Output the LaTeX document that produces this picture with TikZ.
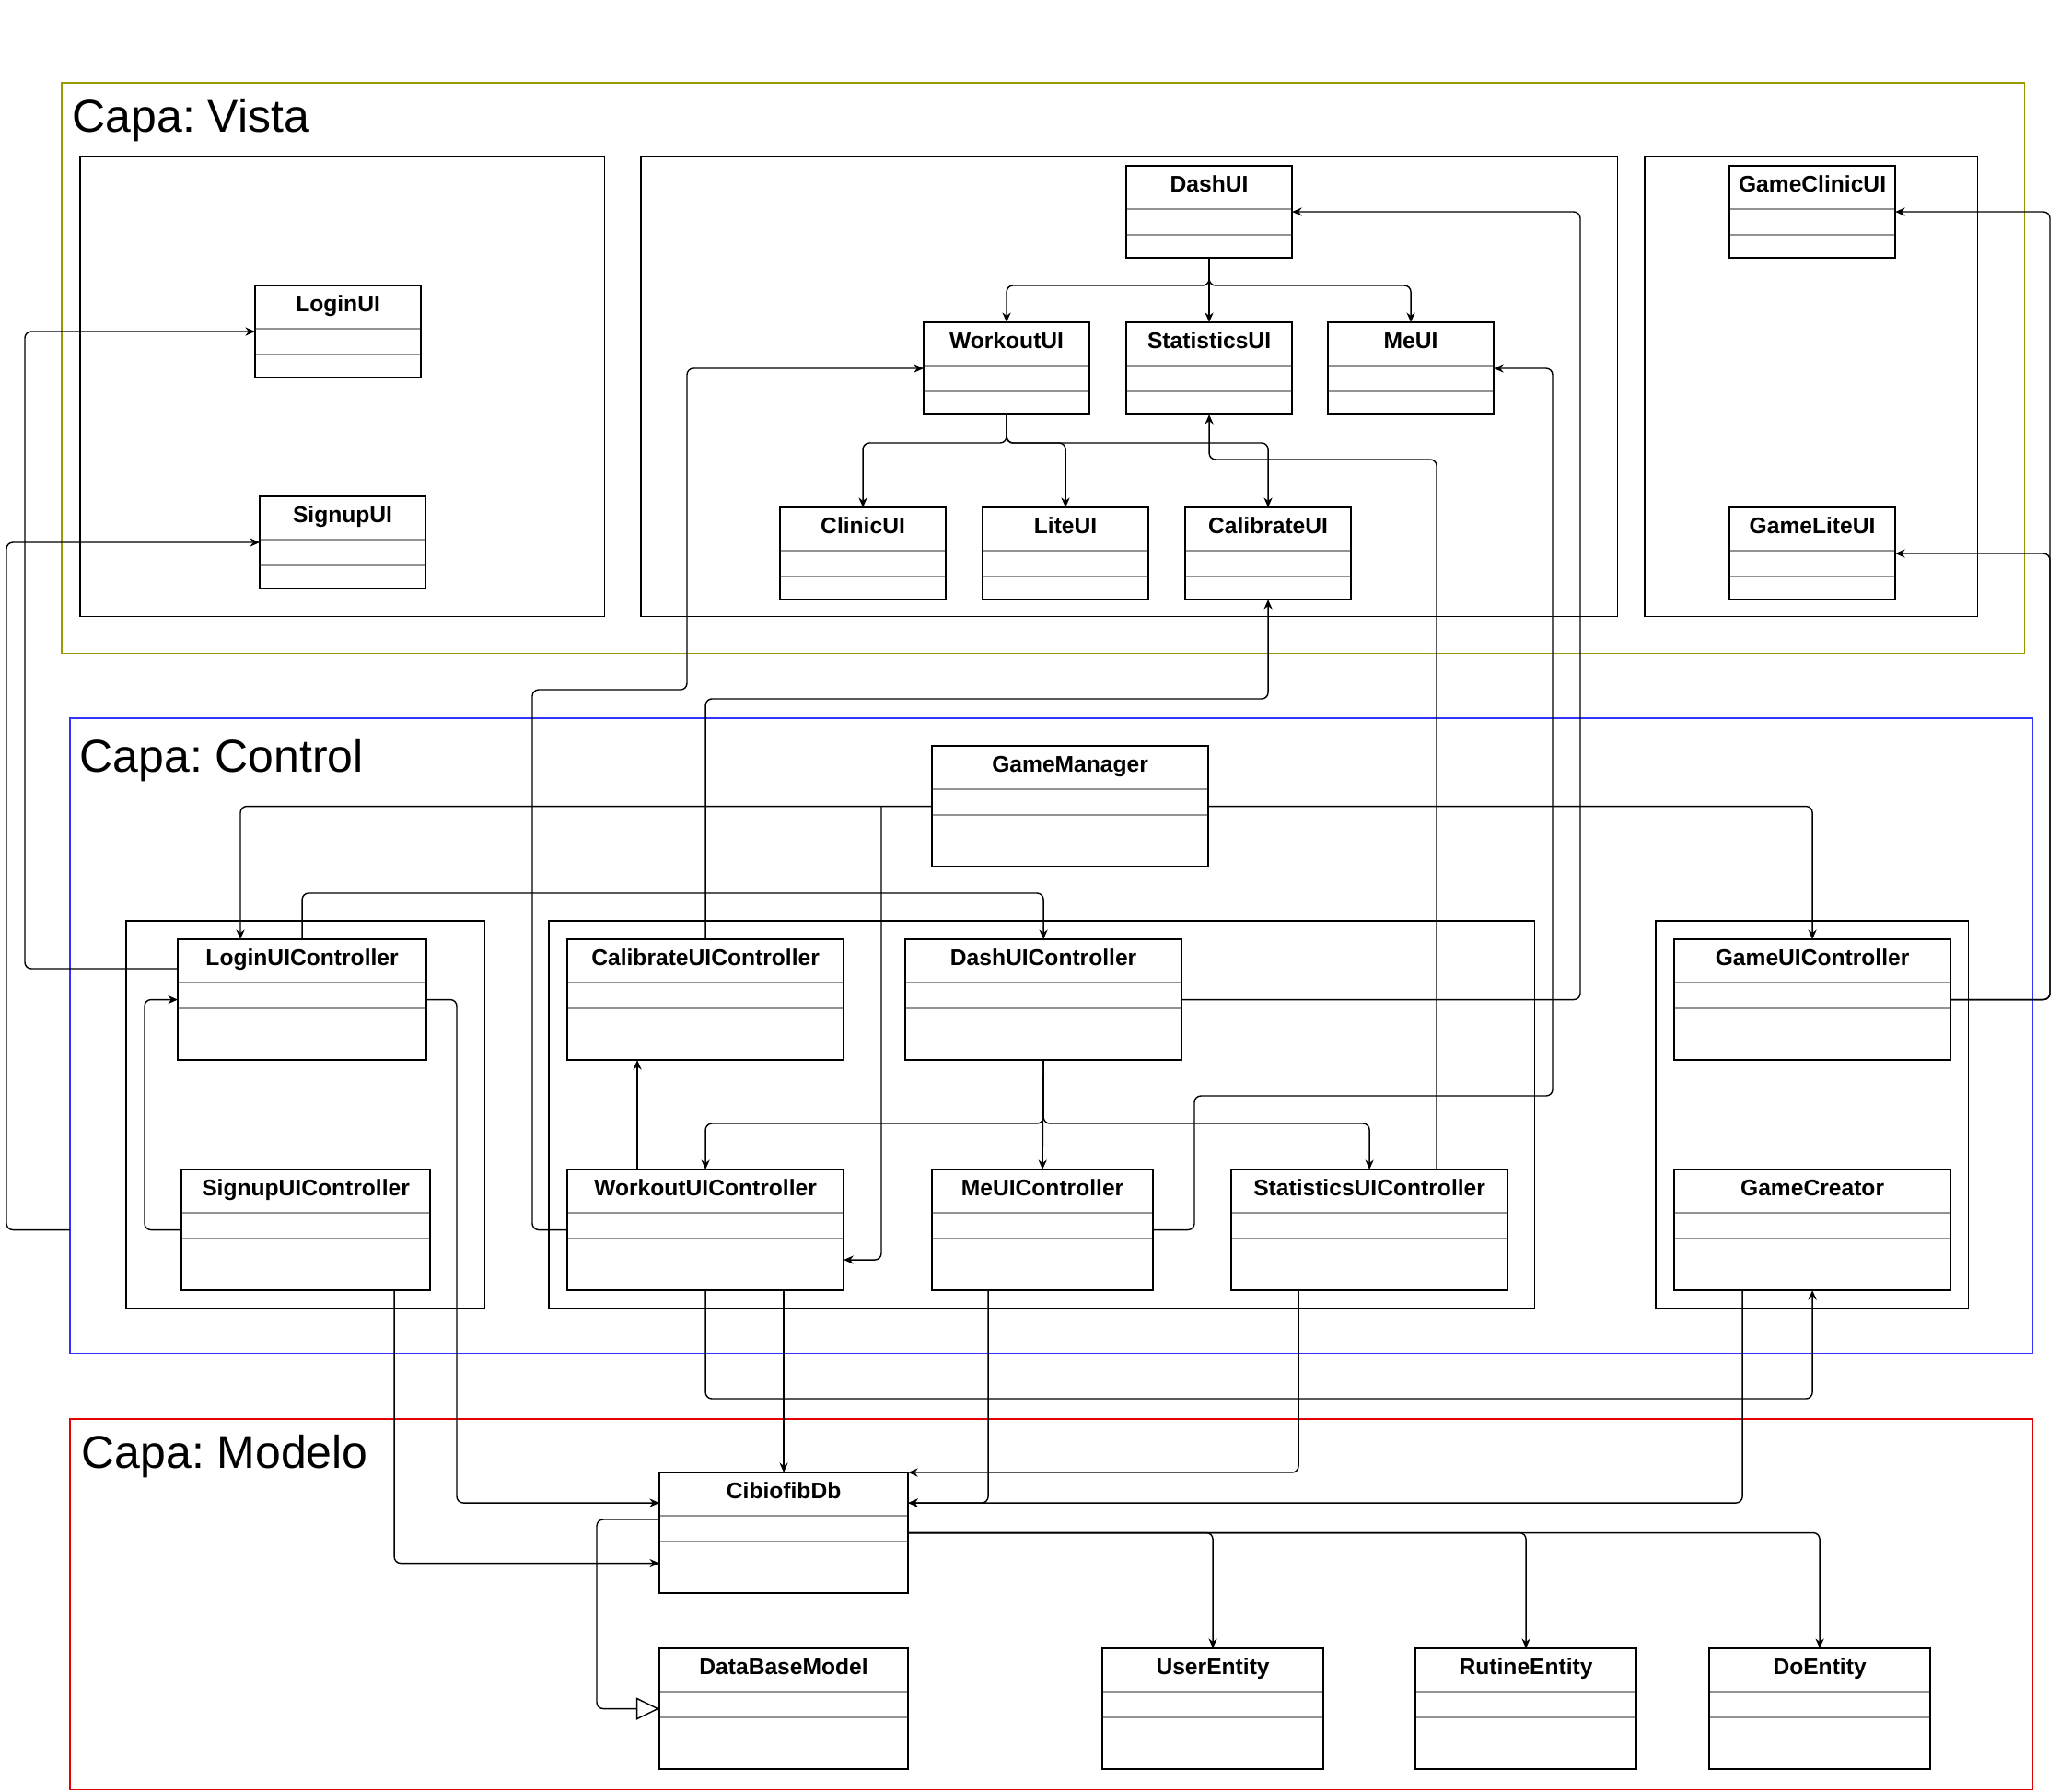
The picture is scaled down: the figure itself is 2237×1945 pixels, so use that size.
\documentclass[tikz,border=0pt]{standalone}
\usepackage{fontspec}
\setmainfont{Liberation Sans}
\usetikzlibrary{arrows.meta,positioning,calc}
\definecolor{vistacol}{RGB}{153,153,0}
\definecolor{ctlcol}{RGB}{51,51,255}
\definecolor{modcol}{RGB}{230,0,0}
\frenchspacing
\tikzstyle{layer}=[draw, anchor=north west, inner sep=0pt, outer sep=0pt]
\tikzstyle{layertitle}=[anchor=base west, inner sep=0pt, font=\fontsize{14.2pt}{17pt}\selectfont]
\tikzstyle{pkg}=[draw, anchor=north west, inner sep=0pt, outer sep=0pt]
\tikzstyle{classbox}=[draw, fill=white, anchor=north west, inner sep=0pt, outer sep=0pt, font=\fontsize{7pt}{8pt}\selectfont\bfseries, text height=0.28cm,
	path picture={\draw[gray!85] ([yshift=-0.47cm]path picture bounding box.north west) -- ([yshift=-0.47cm]path picture bounding box.north east)
		([yshift=-0.75cm]path picture bounding box.north west) -- ([yshift=-0.75cm]path picture bounding box.north east);}]
\tikzstyle{uiclass}=[classbox, minimum width=1.8cm, text depth=0.72cm]
\tikzstyle{ctlclass}=[classbox, minimum width=3cm, text depth=1.03cm]
\tikzstyle{dep}=[-{Stealth[length=3pt,width=2.6pt]}, rounded corners=2pt]
\tikzstyle{gen}=[-{Triangle[open,length=0.25cm,width=0.24cm,fill=white]}, rounded corners=2pt]

\begin{document}
\begin{tikzpicture}[x=0.01cm, y=-0.01cm]
	\useasboundingbox (0,0) rectangle (2237,1945);

	\node[layer, draw=vistacol, minimum width=21.3cm, minimum height=6.19cm] (capavista) at (67,90) {};
	\node[layer, draw=ctlcol, minimum width=21.3cm, minimum height=6.89cm] (capactl) at (76,780) {};
	\node[layer, draw=modcol, minimum width=21.3cm, minimum height=4.02cm] (capamod) at (76,1541) {};
	\node[layertitle] (tvista) at (78,143) {Capa: Vista};
	\node[layertitle] (tctl) at (86,838) {Capa: Control};
	\node[layertitle] (tmod) at (88,1594) {Capa: Modelo};

	\node[pkg, minimum width=5.69cm, minimum height=4.99cm] (pkglogin) at (87,170) {};
	\node[pkg, minimum width=10.6cm, minimum height=4.99cm] (pkgdash) at (696,170) {};
	\node[pkg, minimum width=3.61cm, minimum height=4.99cm] (pkggame) at (1786,170) {};
	\node[pkg, minimum width=3.89cm, minimum height=4.2cm] (pkgloginctl) at (137,1000) {};
	\node[pkg, minimum width=10.7cm, minimum height=4.2cm] (pkgdashctl) at (596,1000) {};
	\node[pkg, minimum width=3.39cm, minimum height=4.2cm] (pkggamectl) at (1798,1000) {};

	\node[uiclass] (loginui) at (277,310) {LoginUI};
	\node[uiclass] (signupui) at (282,539) {SignupUI};
	\node[uiclass] (dashui) at (1223,180) {DashUI};
	\node[uiclass] (workoutui) at (1003,350) {WorkoutUI};
	\node[uiclass] (statsui) at (1223,350) {StatisticsUI};
	\node[uiclass] (meui) at (1442,350) {MeUI};
	\node[uiclass] (clinicui) at (847,551) {ClinicUI};
	\node[uiclass] (liteui) at (1067,551) {LiteUI};
	\node[uiclass] (calibui) at (1287,551) {CalibrateUI};
	\node[uiclass] (gclinicui) at (1878,180) {GameClinicUI};
	\node[uiclass] (gliteui) at (1878,551) {GameLiteUI};

	\node[ctlclass] (gamemgr) at (1012,810) {GameManager};
	\node[ctlclass, minimum width=2.7cm] (loginctl) at (193,1020) {LoginUIController};
	\node[ctlclass, minimum width=2.7cm] (signupctl) at (197,1270) {SignupUIController};
	\node[ctlclass] (calibctl) at (616,1020) {CalibrateUIController};
	\node[ctlclass] (dashctl) at (983,1020) {DashUIController};
	\node[ctlclass] (workoutctl) at (616,1270) {WorkoutUIController};
	\node[ctlclass, minimum width=2.4cm] (mectl) at (1012,1270) {MeUIController};
	\node[ctlclass] (statsctl) at (1337,1270) {StatisticsUIController};
	\node[ctlclass] (gamectl) at (1818,1020) {GameUIController};
	\node[ctlclass] (gamecreator) at (1818,1270) {GameCreator};

	\node[ctlclass, minimum width=2.7cm] (cibiofibdb) at (716,1599) {CibiofibDb};
	\node[ctlclass, minimum width=2.7cm] (dbmodel) at (716,1790) {DataBaseModel};
	\node[ctlclass, minimum width=2.4cm] (userent) at (1197,1790) {UserEntity};
	\node[ctlclass, minimum width=2.4cm] (rutineent) at (1537,1790) {RutineEntity};
	\node[ctlclass, minimum width=2.4cm] (doent) at (1856,1790) {DoEntity};

	\coordinate (dbin1) at ($(cibiofibdb.west)+(0,-32.5)$);
	\coordinate (dbin2) at ($(cibiofibdb.west)+(0,33)$);
	\coordinate (dbin3) at ($(cibiofibdb.east)+(0,-32.5)$);

	\draw[dep] (dashui.south) -- (dashui.south |- 0,310) -| (workoutui.north);
	\draw[dep] (dashui.south) -- (statsui.north);
	\draw[dep] (dashui.south) -- (dashui.south |- 0,310) -| (meui.north);
	\draw[dep] (workoutui.south) -- (workoutui.south |- 0,481) -| (clinicui.north);
	\draw[dep] (workoutui.south) -- (workoutui.south |- 0,481) -| (liteui.north);
	\draw[dep] (workoutui.south) -- (workoutui.south |- 0,481) -| (calibui.north);

	\draw[dep] ([xshift=0.73cm]statsctl.north) |- (statsui.south |- 0,499) -- (statsui.south);
	\draw[dep] (dashctl.east) -| (dashui.east -| 1716,0) -- (dashui.east);
	\draw[dep] (gamectl.east) -| (gclinicui.east -| 2226,0) -- (gclinicui.east);
	\draw[dep] (gamectl.east) -| (gliteui.east -| 2226,0) -- (gliteui.east);
	\draw[dep] ($(loginctl.north west)+(0,32)$) -| (loginui.west -| 27,0) -- (loginui.west);
	\draw[dep] (capactl.west |- signupctl.west) -| (signupui.west -| 7,0) -- (signupui.west);
	\draw[dep] (workoutctl.west) -| (578,749) -| (workoutui.west -| 746,0) -- (workoutui.west);
	\draw[dep] (calibctl.north) |- (calibui.south |- 0,759) -- (calibui.south);
	\draw[dep] (mectl.east) -| (1297,1190) -| (meui.east -| 1686,0) -- (meui.east);

	\draw[dep] (signupctl.west) -| (loginctl.west -| 157,0) -- (loginctl.west);
	\draw[dep] (gamemgr.west) -| (loginctl.north -| 261,0);
	\draw[dep] (gamemgr.west -| 957,0) |- ($(workoutctl.east)+(0,32.5)$);
	\draw[dep] (gamemgr.east) -| (gamectl.north);
	\draw[dep] (loginctl.north) |- (dashctl.north |- 0,970) -- (dashctl.north);
	\draw[dep] (dashctl.south) -- (mectl.north);
	\draw[dep] (dashctl.south) -- (dashctl.south |- 0,1220) -| (workoutctl.north);
	\draw[dep] (dashctl.south) -- (dashctl.south |- 0,1220) -| (statsctl.north);
	\draw[dep] ([xshift=-0.74cm]workoutctl.north) -- ([xshift=-0.74cm]calibctl.south);

	\draw[dep] (loginctl.east) -| (dbin1 -| 496,0) -- (dbin1);
	\draw[dep] ($(signupctl.south)+(96,0)$) |- (dbin2);
	\draw[dep] (workoutctl.south) |- (gamecreator.south |- 0,1519) -- (gamecreator.south);
	\draw[dep] (workoutctl.south -| cibiofibdb.north) -- (cibiofibdb.north);
	\draw[dep] ($(mectl.south)+(-59,0)$) |- (dbin3);
	\draw[dep] ($(statsctl.south)+(-77,0)$) |- (cibiofibdb.north east);
	\draw[dep] ($(gamecreator.south)+(-76,0)$) |- (dbin3);

	\draw[dep] (cibiofibdb.east) -| (userent.north);
	\draw[dep] (cibiofibdb.east) -| (rutineent.north);
	\draw[dep] (cibiofibdb.east) -| (doent.north);
	\draw[gen] ($(cibiofibdb.north west)+(0,51)$) -| (dbmodel.west -| 648,0) -- (dbmodel.west);

\end{tikzpicture}
\end{document}
